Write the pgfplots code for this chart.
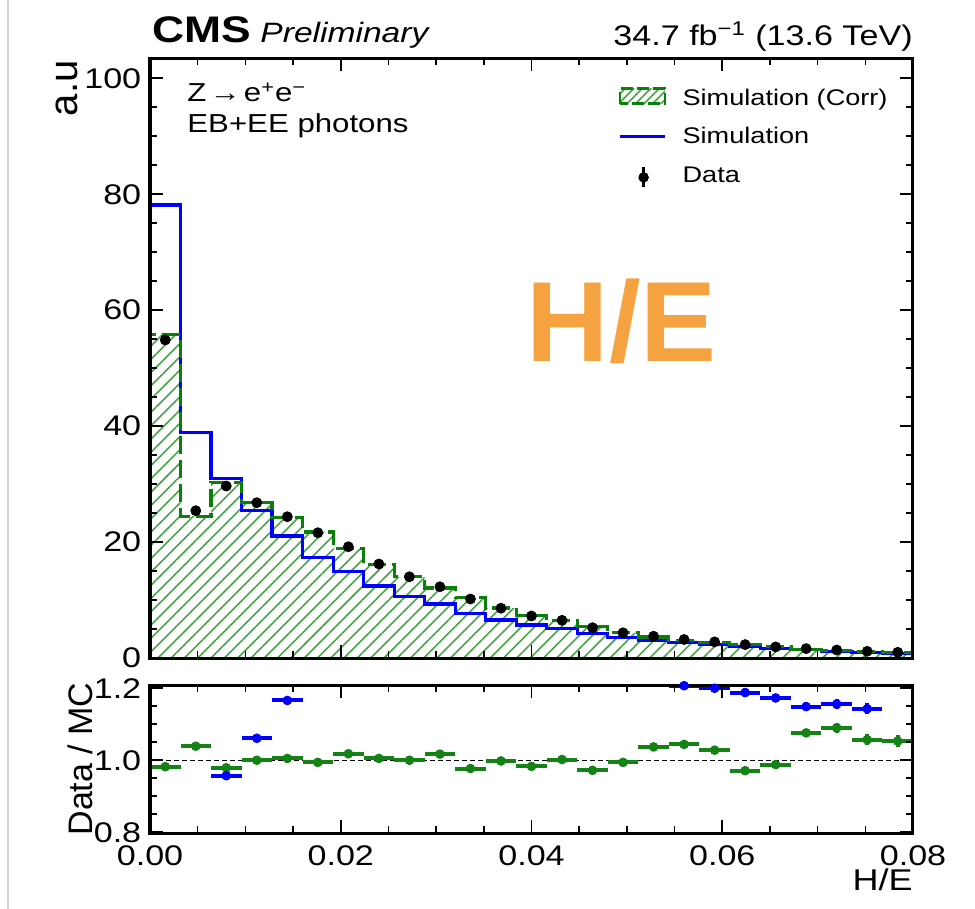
\documentclass[border=0pt]{standalone}
\usepackage{pgfplots}
\pgfplotsset{compat=1.18}
\usepackage{pgfplotstable}
\usetikzlibrary{patterns.meta}
\usepackage{fontspec}
\setmainfont[FakeStretch=1.2]{Liberation Sans}
\newfontfamily\plainsans{Liberation Sans}
\definecolor{histgreen}{RGB}{10,128,10}
\definecolor{hatchgreen}{RGB}{70,165,70}
\definecolor{ratiogreen}{RGB}{20,130,20}
\definecolor{heorange}{RGB}{244,163,64}

% histogram outline: bin left edges (plus closing points)
\pgfplotstableread{
x      blue   green
0      0      0
0      78.14  55.87
0.0032 38.93  24.46
0.0064 31.00  30.31
0.0096 25.41  26.79
0.0128 21.05  24.25
0.0160 17.37  21.74
0.0192 14.89  18.85
0.0224 12.42  16.14
0.0256 10.57  14.01
0.0288 9.32   12.08
0.0320 7.71   10.42
0.0352 6.56   8.61
0.0384 5.69   7.38
0.0416 5.12   6.49
0.0448 4.18   5.38
0.0480 3.51   4.38
0.0512 3.08   3.63
0.0544 2.64   3.06
0.0576 2.32   2.70
0.0608 1.94   2.38
0.0640 1.63   1.93
0.0672 1.41   1.51
0.0704 1.19   1.27
0.0736 1.01   1.10
0.0768 0.78   0.93
0.0800 0.78   0.93
0.0800 0      0
}\hist

% bin centres: data, ratios
\pgfplotstableread{
xc     data   derr  rg     rge    rb     rbe
0.0016 54.86  0.25  0.982  0.004  nan    nan
0.0048 25.41  0.20  1.039  0.005  nan    nan
0.0080 29.67  0.20  0.979  0.005  0.957  0.005
0.0112 26.79  0.20  1.000  0.005  1.061  0.005
0.0144 24.37  0.20  1.005  0.005  1.166  0.006
0.0176 21.61  0.20  0.994  0.005  nan    nan
0.0208 19.19  0.20  1.018  0.005  nan    nan
0.0240 16.22  0.15  1.005  0.005  nan    nan
0.0272 14.01  0.15  1.000  0.006  nan    nan
0.0304 12.29  0.15  1.017  0.006  nan    nan
0.0336 10.18  0.15  0.977  0.006  nan    nan
0.0368 8.59   0.10  0.998  0.006  nan    nan
0.0400 7.25   0.10  0.983  0.007  nan    nan
0.0432 6.50   0.10  1.002  0.007  nan    nan
0.0464 5.23   0.10  0.972  0.008  nan    nan
0.0496 4.35   0.10  0.994  0.008  nan    nan
0.0528 3.76   0.08  1.037  0.009  nan    nan
0.0560 3.19   0.08  1.044  0.009  1.207  0.010
0.0592 2.78   0.08  1.028  0.010  1.200  0.011
0.0624 2.31   0.06  0.971  0.010  1.188  0.012
0.0656 1.91   0.06  0.988  0.011  1.173  0.012
0.0688 1.62   0.06  1.076  0.012  1.149  0.013
0.0720 1.38   0.05  1.090  0.013  1.156  0.014
0.0752 1.16   0.05  1.057  0.015  1.143  0.015
0.0784 0.98   0.05  1.053  0.017  nan    nan
}\pts

\pgfplotsset{
  cmsstyle/.style={
    scale only axis, width=381.5pt,
    xmin=0, xmax=0.08,
    axis line style={line width=1.5pt},
    tick align=inside,
    major tick length=6.5pt, minor tick length=3.5pt,
    tick style={black, line width=0.8pt},
    minor x tick num=3, minor y tick num=3,
    xtick={0,0.02,0.04,0.06,0.08},
    scaled x ticks=false,
    /pgf/number format/assume math mode=true,
    ticklabel style={font=\fontsize{14.2}{14.2}\selectfont},
    yticklabel style={anchor=east, inner sep=0pt, xshift=-4.2pt},
    axis on top,
  }
}

\begin{document}
\begin{tikzpicture}
\useasboundingbox (0,0) rectangle (487.5pt,-454.5pt);
\draw[black!18, line width=0.6pt] (4pt,0pt) -- (4pt,-454.5pt);

\begin{axis}[cmsstyle, name=main,
  at={(75pt,-329pt)}, anchor=south west, height=299.85pt,
  ymin=0, ymax=103.45, ytick={0,20,40,60,80,100},
  xticklabels={},
  legend style={at={(axis description cs:0.6134,0.952)}, anchor=north west,
    draw=none, fill=none, inner sep=0pt,
    font=\fontsize{11.3}{13}\selectfont,
    column sep=8pt, row sep=7.2pt,
    nodes={inner sep=0pt, text height=9pt, text depth=3pt}},
  legend cell align=left,
]
\addlegendimage{legend image code/.code={
  \draw[pattern={Lines[angle=45,distance=3pt,line width=0.8pt]}, pattern color=hatchgreen,
        draw=histgreen, line width=1.4pt, dash pattern=on 6pt off 2pt]
        (0pt,-2.15pt) rectangle (22.5pt,5.35pt);}}
\addlegendentry{Simulation (Corr)}
\addlegendimage{legend image code/.code={
  \draw[blue, line width=1.6pt] (0pt,0.7pt) -- (22.5pt,0.7pt);}}
\addlegendentry{Simulation}
\addlegendimage{legend image code/.code={
  \draw[black, line width=1.3pt] (11.8pt,-5.5pt) -- (11.8pt,4.5pt);
  \fill[black] (11.8pt,-0.5pt) circle (2.4pt);}}
\addlegendentry{Data}

\addplot[forget plot, draw=none, const plot mark left,
  pattern={Lines[angle=45,distance=4.7pt,line width=0.8pt]}, pattern color=hatchgreen]
  table[x=x, y=green] {\hist} \closedcycle;
\addplot[forget plot, blue, line width=1.6pt, const plot mark left]
  table[x=x, y=blue] {\hist};
\addplot[forget plot, histgreen, line width=1.6pt, dash pattern=on 9pt off 3pt, const plot mark left]
  table[x=x, y=green] {\hist};
\addplot[forget plot, only marks, mark=*, mark size=2.5pt, black,
  error bars/.cd, y dir=both, y explicit, error bar style={line width=1pt}, error mark=none]
  table[x=xc, y=data, y error=derr] {\pts};
\end{axis}

\begin{axis}[cmsstyle, name=ratio,
  at={(75pt,-416.65pt)}, anchor=south west, height=74.15pt,
  ymin=0.797, ymax=1.209, ytick={0.8,1.0,1.2},
  yticklabel style={/pgf/number format/.cd, fixed, fixed zerofill, precision=1},
  xticklabel style={anchor=north, inner sep=0pt, yshift=-6pt,
    /pgf/number format/.cd, fixed, fixed zerofill, precision=2},
]
\addplot[black, line width=0.6pt, dash pattern=on 2.5pt off 1.5pt] coordinates {(0,1) (0.08,1)};
\addplot[only marks, mark=*, mark size=2.2pt, ratiogreen,
  error bars/.cd, x dir=both, x fixed=0.0016, y dir=both, y explicit,
  error bar style={line width=2pt, ratiogreen}, error mark=none]
  table[x=xc, y=rg, y error=rge] {\pts};
\addplot[only marks, mark=*, mark size=2.2pt, blue,
  error bars/.cd, x dir=both, x fixed=0.0016, y dir=both, y explicit,
  error bar style={line width=2pt, blue}, error mark=none]
  table[x=xc, y=rb, y error=rbe] {\pts};
\end{axis}

% titles and labels
\node[anchor=base west, inner sep=0pt, font=\bfseries\fontsize{18.5}{18.5}\selectfont] at (76pt,-21.5pt) {CMS};
\node[anchor=base west, inner sep=0pt, font=\itshape\fontsize{14}{14}\selectfont] at (130pt,-21.5pt) {Preliminary};
\node[anchor=base east, inner sep=0pt, font=\fontsize{14.2}{14.2}\selectfont] at (456.5pt,-23pt) {34.7 fb\textsuperscript{−1} (13.6 TeV)};
\node[anchor=base west, inner sep=0pt, font=\fontsize{13}{13}\selectfont] at (93.5pt,-51pt) {Z\hspace{0.12em}→\hspace{0.12em}e\textsuperscript{+}e\textsuperscript{−}};
\node[anchor=base west, inner sep=0pt, font=\fontsize{13}{13}\selectfont] at (93.5pt,-66.5pt) {EB+EE photons};
\node[inner sep=0pt, text=heorange, font=\plainsans\bfseries\fontsize{57}{57}\selectfont] at (311pt,-160.5pt) {H/E};
\node[rotate=90, anchor=base east, inner sep=0pt, font=\plainsans\fontsize{20}{20}\selectfont] at (38.5pt,-30pt) {a.u};
\node[rotate=90, anchor=base, inner sep=0pt, font=\plainsans\fontsize{17}{17}\selectfont] at (46pt,-379.5pt) {Data / MC};
\node[anchor=base east, inner sep=0pt, font=\fontsize{15}{15}\selectfont] at (456.5pt,-445pt) {H/E};
\end{tikzpicture}
\end{document}
